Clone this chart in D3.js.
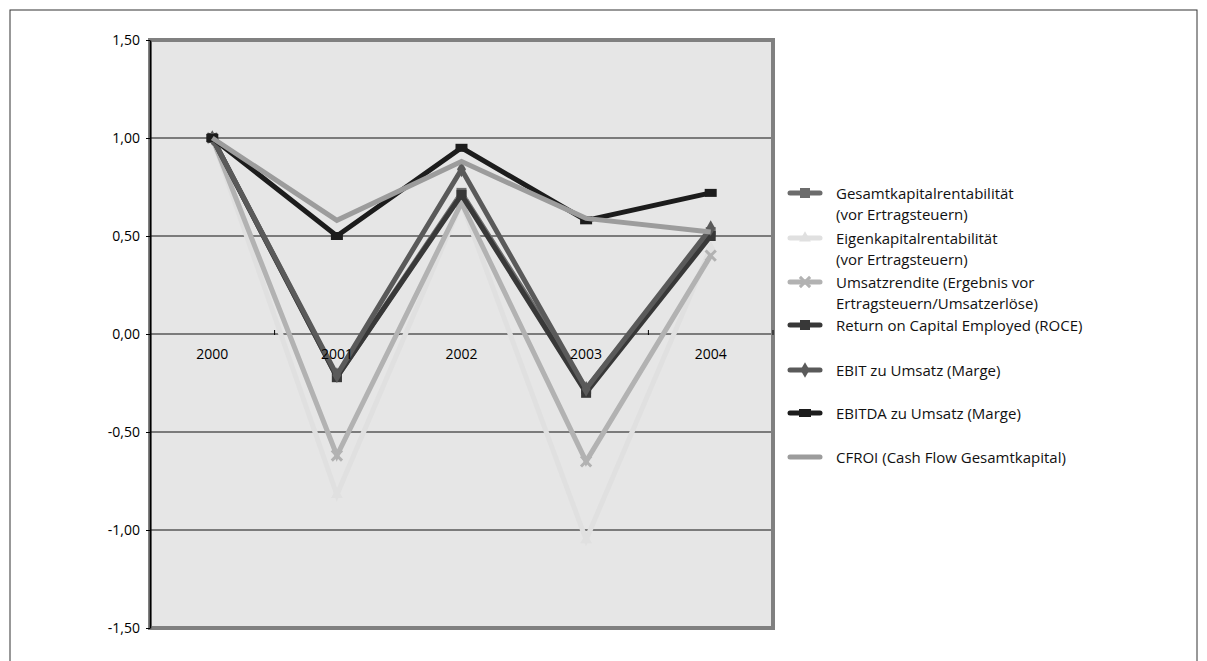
<!DOCTYPE html>
<html>
<head>
<meta charset="utf-8">
<script src="https://cdn.jsdelivr.net/npm/d3@7"></script>
<style>
  body { margin: 0; background: #fff; }
  text { font-family: "Open Sans", "DejaVu Sans", sans-serif; }
</style>
</head>
<body>
<div id="chart"></div>
<script>
// Jahre und Kennzahlen (Index, 2000 = 1,00)
const jahre = ["2000", "2001", "2002", "2003", "2004"];

const gesamtkapital = [1.00, -0.22, 0.72, -0.28, 0.52];
const eigenkapital = [1.00, -0.82, 0.67, -1.05, 0.44];
const umsatzrendite = [1.00, -0.62, 0.67, -0.65, 0.40];
const roce = [1.00, -0.22, 0.71, -0.30, 0.50];
const ebit = [1.00, -0.21, 0.84, -0.28, 0.54];
const ebitda = [1.00, 0.50, 0.95, 0.58, 0.72];
const cfroi = [1.00, 0.58, 0.88, 0.59, 0.52];

const yTicks = [-1.5, -1.0, -0.5, 0, 0.5, 1.0, 1.5];

const reihen = [
  { name: ["Gesamtkapitalrentabilität", "(vor Ertragsteuern)"], werte: gesamtkapital, farbe: "#6c6c6c", marker: "square" },
  { name: ["Eigenkapitalrentabilität", "(vor Ertragsteuern)"], werte: eigenkapital, farbe: "#e0e0e0", marker: "triangle" },
  { name: ["Umsatzrendite (Ergebnis vor", "Ertragsteuern/Umsatzerlöse)"], werte: umsatzrendite, farbe: "#b2b2b2", marker: "cross" },
  { name: ["Return on Capital Employed (ROCE)"], werte: roce, farbe: "#383838", marker: "square" },
  { name: ["EBIT zu Umsatz (Marge)"], werte: ebit, farbe: "#5a5a5a", marker: "diamond" },
  { name: ["EBITDA zu Umsatz (Marge)"], werte: ebitda, farbe: "#1c1c1c", marker: "dash" },
  { name: ["CFROI (Cash Flow Gesamtkapital)"], werte: cfroi, farbe: "#9c9c9c", marker: "none" }
];

const WIDTH = 1207;
const HEIGHT = 661;

const SVG = d3.select("#chart").append("svg")
  .attr("width", WIDTH).attr("height", HEIGHT);

// Rahmen aussen
SVG.append("rect")
  .attr("x", 10).attr("y", 10)
  .attr("width", 1187).attr("height", 700)
  .attr("fill", "none").attr("stroke", "#333").attr("stroke-width", 1);

const plot = { left: 150, right: 773, top: 40, bottom: 628 };

const x = d3.scaleBand().domain(jahre).range([plot.left, plot.right]);
const y = d3.scaleLinear().domain([-1.5, 1.5]).range([plot.bottom, plot.top]);

const fmt = v => d3.format(".2f")(v).replace(".", ",").replace("\u2212", "-");

// Plotflaeche
SVG.append("rect")
  .attr("x", plot.left).attr("y", plot.top)
  .attr("width", plot.right - plot.left).attr("height", plot.bottom - plot.top)
  .attr("fill", "#e6e6e6").attr("stroke", "#808080").attr("stroke-width", 4);

// Gitterlinien
SVG.append("g").selectAll("line")
  .data(yTicks.filter(t => t > -1.5 && t < 1.5))
  .join("line")
  .attr("x1", plot.left).attr("x2", plot.right - 2)
  .attr("y1", d => y(d)).attr("y2", d => y(d))
  .attr("stroke", "#111").attr("stroke-width", 1);

// y-Achse
const yAxis = SVG.append("g")
  .attr("transform", `translate(${plot.left},0)`)
  .call(d3.axisLeft(y).tickValues(yTicks).tickFormat(fmt).tickSize(4).tickSizeOuter(0));
yAxis.select(".domain").attr("stroke", "#000").attr("stroke-width", 1.5);
yAxis.selectAll("text").attr("font-size", 14).attr("fill", "#000").attr("dx", -3);

// x-Achse bei 0
const grenzen = jahre.map(j => x(j)).concat([plot.right]);
SVG.append("g").selectAll("line")
  .data(grenzen.slice(1))
  .join("line")
  .attr("x1", d => d).attr("x2", d => d)
  .attr("y1", y(0) - 4).attr("y2", y(0) + 1)
  .attr("stroke", "#000");

// Marker
function marker(g, typ, farbe, cx, cy) {
  if (typ === "square") {
    g.append("rect").attr("x", cx - 5).attr("y", cy - 5).attr("width", 10).attr("height", 10).attr("fill", farbe);
  } else if (typ === "triangle") {
    g.append("path").attr("d", d3.symbol(d3.symbolTriangle, 60)()).attr("transform", `translate(${cx},${cy})`).attr("fill", farbe);
  } else if (typ === "cross") {
    g.append("path").attr("d", d3.symbol(d3.symbolX, 70)()).attr("transform", `translate(${cx},${cy})`)
      .attr("stroke", farbe).attr("stroke-width", 3).attr("fill", "none");
  } else if (typ === "diamond") {
    g.append("path").attr("d", d3.symbol(d3.symbolDiamond, 70)()).attr("transform", `translate(${cx},${cy})`).attr("fill", farbe);
  } else if (typ === "dash") {
    g.append("rect").attr("x", cx - 6).attr("y", cy - 4).attr("width", 12).attr("height", 8).attr("fill", farbe);
  }
}

const linie = d3.line()
  .x((d, i) => x(jahre[i]) + x.bandwidth() / 2)
  .y(d => y(d));

reihen.forEach(r => {
  const g = SVG.append("g");
  g.append("path")
    .attr("d", linie(r.werte))
    .attr("fill", "none")
    .attr("stroke", r.farbe)
    .attr("stroke-width", 5)
    .attr("stroke-linejoin", "miter");
  r.werte.forEach((v, i) => marker(g, r.marker, r.farbe, x(jahre[i]) + x.bandwidth() / 2, y(v)));
});

// Jahreszahlen ueber den Linien
SVG.append("g").selectAll("text")
  .data(jahre)
  .join("text")
  .attr("x", d => x(d) + x.bandwidth() / 2)
  .attr("y", y(0) + 25)
  .attr("text-anchor", "middle")
  .attr("font-size", 14)
  .text(d => d);

// Legende
const legendeY = [193, 238, 282, 325, 370, 413, 457];
reihen.forEach((r, i) => {
  const g = SVG.append("g").attr("transform", `translate(790,${legendeY[i]})`);
  g.append("line").attr("x1", 0).attr("x2", 30).attr("y1", 0).attr("y2", 0)
    .attr("stroke", r.farbe).attr("stroke-width", 5).attr("stroke-linecap", "round");
  marker(g, r.marker, r.farbe, 15, 0);
  r.name.forEach((t, k) => {
    g.append("text").attr("x", 46).attr("y", 5.5 + k * 21)
      .attr("font-size", 15).attr("fill", "#111").text(t);
  });
});
</script>
</body>
</html>
